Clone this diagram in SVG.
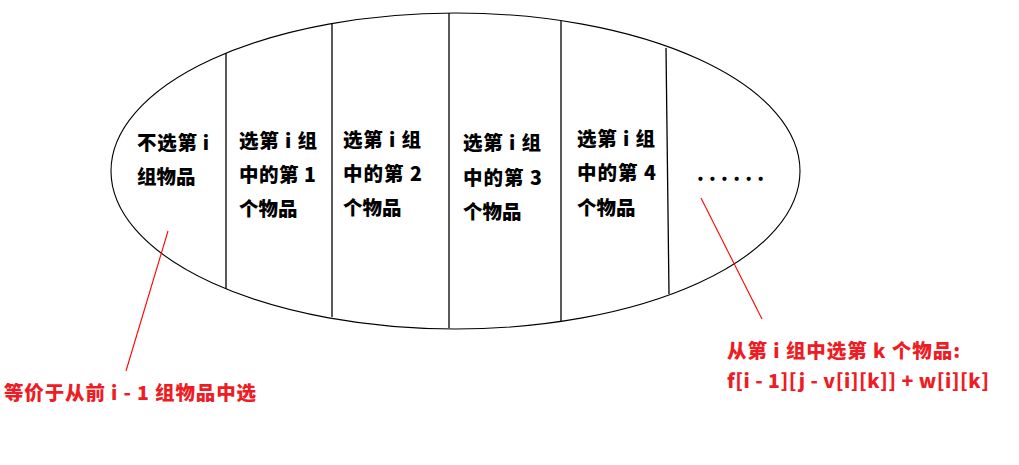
<svg xmlns="http://www.w3.org/2000/svg" width="1019" height="465" viewBox="0 0 1019 465">
<style>
.t{font-family:"Noto Sans CJK SC","Microsoft YaHei",sans-serif;font-size:19.5px;font-weight:900;fill:#000}
.r{font-family:"Noto Sans CJK SC","Microsoft YaHei",sans-serif;font-size:19.5px;font-weight:900;fill:#ee1c24}
.d{stroke:#000;stroke-width:1.3;fill:none}
.c{stroke:#ff0000;stroke-width:1.1;fill:none}
</style>
<rect width="1019" height="465" fill="#fff"/>
<g id="set">
<ellipse cx="455.5" cy="171" rx="344.5" ry="158" fill="none" stroke="#000" stroke-width="1.1"/>
<line class="d" x1="226" y1="53" x2="226" y2="289"/>
<line class="d" x1="332" y1="23" x2="332" y2="317"/>
<line class="d" x1="449" y1="13" x2="449" y2="328"/>
<line class="d" x1="561" y1="21" x2="561" y2="321"/>
<line class="d" x1="666" y1="48" x2="669" y2="294"/>
</g>
<g id="col0">
<text class="t" x="137" y="150" textLength="72">不选第 i</text>
<text class="t" x="137" y="184">组物品</text>
</g>
<g id="col1">
<text class="t" x="239" y="148" textLength="78">选第 i 组</text>
<text class="t" x="239" y="182" textLength="77">中的第 1</text>
<text class="t" x="239" y="216">个物品</text>
</g>
<g id="col2">
<text class="t" x="343" y="147" textLength="78">选第 i 组</text>
<text class="t" x="343" y="181" textLength="79">中的第 2</text>
<text class="t" x="343" y="215">个物品</text>
</g>
<g id="col3">
<text class="t" x="463" y="150" textLength="78">选第 i 组</text>
<text class="t" x="463" y="185" textLength="79">中的第 3</text>
<text class="t" x="463" y="219">个物品</text>
</g>
<g id="col4">
<text class="t" x="577" y="146" textLength="78">选第 i 组</text>
<text class="t" x="577" y="180" textLength="79">中的第 4</text>
<text class="t" x="577" y="215">个物品</text>
</g>
<g id="more">
<text class="t" x="697" y="181" letter-spacing="5.2">......</text>
</g>
<g id="connectors">
<line class="c" x1="168" y1="231" x2="126" y2="371"/>
<line class="c" x1="701" y1="198" x2="762" y2="319"/>
</g>
<g id="note-left">
<text class="r" x="4" y="400" textLength="252">等价于从前 i - 1 组物品中选</text>
</g>
<g id="note-right">
<text class="r" x="727" y="358" textLength="233">从第 i 组中选第 k 个物品:</text>
<text class="r" x="727" y="388" textLength="262">f[i - 1][j - v[i][k]] + w[i][k]</text>
</g>
</svg>
